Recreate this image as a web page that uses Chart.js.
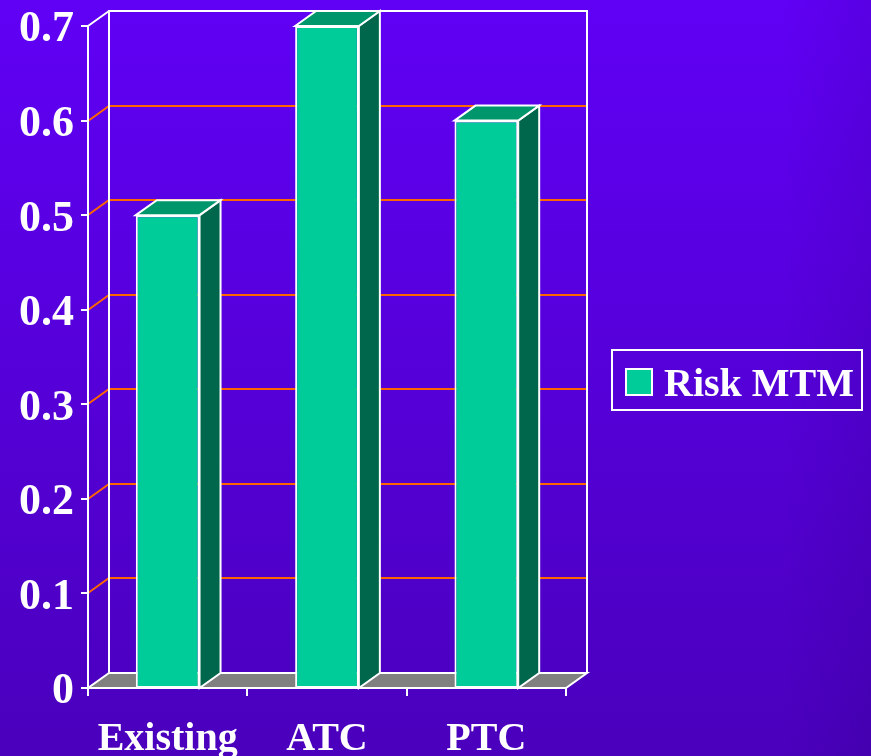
<!DOCTYPE html>
<html>
<head>
<meta charset="utf-8">
<script src="https://cdn.jsdelivr.net/npm/chart.js@4/dist/chart.umd.min.js"></script>
<style>
  html, body { margin: 0; padding: 0; background: #5500dd; }
  #wrap { width: 871px; height: 756px; position: relative; }
  canvas { display: block; }
</style>
</head>
<body>
<div id="wrap"><canvas id="c" width="871" height="756"></canvas></div>
<script>
// ---- data ----
const categories = ['Existing', 'ATC', 'PTC'];
const riskMTM = [0.5, 0.7, 0.6];
const seriesName = 'Risk MTM';
const yTickLabels = ['0', '0.1', '0.2', '0.3', '0.4', '0.5', '0.6', '0.7'];

// ---- style ----
const FONT = 'Liberation Serif, "Times New Roman", serif';
const DEPTH = { dx: 21, dy: -15 };
const FRONT = '#00cc99', TOP = '#00966c', SIDE = '#00664c';
const GRID = '#ff6600', FLOOR = '#808080', EDGE = '#ffffff';

const threeD = {
  id: 'threeD',
  beforeDraw(chart) {
    const { ctx, width, height } = chart;
    ctx.save();
    const g = ctx.createLinearGradient(0, 0, 0, height);
    g.addColorStop(0, '#6000f5');
    g.addColorStop(1, '#4a00bc');
    ctx.fillStyle = g;
    ctx.fillRect(0, 0, width, height);
    const h = ctx.createLinearGradient(width - 90, 0, width, 0);
    h.addColorStop(0, 'rgba(0,0,30,0)');
    h.addColorStop(1, 'rgba(0,0,30,0.08)');
    ctx.fillStyle = h;
    ctx.fillRect(width - 90, 0, 90, height);
    ctx.restore();
  },
  beforeDatasetsDraw(chart) {
    const { ctx, chartArea: a, scales: { y } } = chart;
    const { dx, dy } = DEPTH;
    const y0 = y.getPixelForValue(0);
    const yTop = y.getPixelForValue(y.max);
    ctx.save();
    // gridlines on left and back walls
    ctx.strokeStyle = GRID;
    ctx.lineWidth = 2;
    y.ticks.forEach(t => {
      if (t.value <= 0 || t.value >= y.max) return;
      const py = Math.round(y.getPixelForValue(t.value));
      ctx.beginPath();
      ctx.moveTo(a.left, py);
      ctx.lineTo(a.left + dx, py + dy);
      ctx.lineTo(a.right + dx, py + dy);
      ctx.stroke();
    });
    // floor
    ctx.fillStyle = FLOOR;
    ctx.strokeStyle = EDGE;
    ctx.lineWidth = 2;
    ctx.beginPath();
    ctx.moveTo(a.left, y0);
    ctx.lineTo(a.right, y0);
    ctx.lineTo(a.right + dx, y0 + dy);
    ctx.lineTo(a.left + dx, y0 + dy);
    ctx.closePath();
    ctx.fill();
    ctx.stroke();
    // wall edges
    ctx.beginPath();
    ctx.moveTo(a.left + dx, y0 + dy);
    ctx.lineTo(a.left + dx, yTop + dy);
    ctx.lineTo(a.right + dx, yTop + dy);
    ctx.lineTo(a.right + dx, y0 + dy);
    ctx.moveTo(a.left, yTop);
    ctx.lineTo(a.left + dx, yTop + dy);
    ctx.stroke();
    ctx.restore();
  },
  afterDatasetsDraw(chart) {
    const { ctx, chartArea: a, scales: { x, y } } = chart;
    const { dx, dy } = DEPTH;
    const y0 = y.getPixelForValue(0);
    const yTop = y.getPixelForValue(y.max);
    ctx.save();
    ctx.lineWidth = 2;
    ctx.strokeStyle = EDGE;
    ctx.lineJoin = 'miter';
    chart.getDatasetMeta(0).data.forEach(bar => {
      const { x: cx, y: ty, base, width } = bar.getProps(['x', 'y', 'base', 'width'], true);
      const l = cx - width / 2, r = cx + width / 2;
      // side
      ctx.fillStyle = SIDE;
      ctx.beginPath();
      ctx.moveTo(r, ty); ctx.lineTo(r + dx, ty + dy);
      ctx.lineTo(r + dx, base + dy); ctx.lineTo(r, base);
      ctx.closePath(); ctx.fill(); ctx.stroke();
      // top
      ctx.fillStyle = TOP;
      ctx.beginPath();
      ctx.moveTo(l, ty); ctx.lineTo(l + dx, ty + dy);
      ctx.lineTo(r + dx, ty + dy); ctx.lineTo(r, ty);
      ctx.closePath(); ctx.fill(); ctx.stroke();
    });
    // front axes
    ctx.beginPath();
    ctx.moveTo(a.left, yTop); ctx.lineTo(a.left, y0 + 8);
    ctx.moveTo(a.left, y0); ctx.lineTo(a.right, y0);
    ctx.stroke();
    // y ticks
    y.ticks.forEach(t => {
      const py = Math.round(y.getPixelForValue(t.value));
      ctx.beginPath(); ctx.moveTo(a.left - 7, py); ctx.lineTo(a.left, py); ctx.stroke();
    });
    // x category boundary ticks
    const half = (x.getPixelForValue(1) - x.getPixelForValue(0)) / 2;
    for (let i = 0; i <= categories.length; i++) {
      const px = Math.round(x.getPixelForValue(0) - half + i * 2 * half);
      ctx.beginPath(); ctx.moveTo(px, y0); ctx.lineTo(px, y0 + 8); ctx.stroke();
    }
    ctx.restore();
  },
  afterDraw(chart) {
    // legend
    const { ctx } = chart;
    const ds = chart.data.datasets[0];
    ctx.save();
    ctx.strokeStyle = EDGE;
    ctx.lineWidth = 2;
    ctx.strokeRect(612, 350, 250, 60);
    ctx.fillStyle = ds.backgroundColor;
    ctx.fillRect(626, 369, 26, 26);
    ctx.strokeRect(626, 369, 26, 26);
    ctx.fillStyle = '#ffffff';
    ctx.font = 'bold 40px ' + FONT;
    ctx.textBaseline = 'alphabetic';
    ctx.textAlign = 'left';
    ctx.fillText(ds.label, 664, 396);
    ctx.restore();
  }
};

new Chart(document.getElementById('c'), {
  type: 'bar',
  data: {
    labels: categories,
    datasets: [{
      label: seriesName,
      data: riskMTM,
      backgroundColor: FRONT,
      borderColor: EDGE,
      borderWidth: 2,
      borderSkipped: false,
      categoryPercentage: 1.0,
      barPercentage: 0.4
    }]
  },
  options: {
    responsive: false,
    animation: false,
    events: [],
    layout: { padding: { left: 0, right: 305, top: 26, bottom: 0 } },
    plugins: { legend: { display: false }, tooltip: { enabled: false } },
    scales: {
      x: {
        grid: { display: false, drawTicks: false },
        border: { display: false },
        ticks: {
          color: '#ffffff',
          font: { family: FONT, weight: 'bold', size: 40 },
          padding: 28,
          maxRotation: 0,
          autoSkip: false
        },
        afterFit(s) { s.height = 68; s.paddingLeft = 0; s.paddingRight = 0; }
      },
      y: {
        min: 0,
        max: 0.7,
        grid: { display: false, drawTicks: false },
        border: { display: false },
        ticks: {
          stepSize: 0.1,
          color: '#ffffff',
          font: { family: FONT, weight: 'bold', size: 44 },
          padding: 14,
          labelOffset: 4,
          callback: (v, i) => yTickLabels[i]
        },
        afterFit(s) { s.width = 88; s.paddingTop = 0; s.paddingBottom = 0; }
      }
    }
  },
  plugins: [threeD]
});
</script>
</body>
</html>
